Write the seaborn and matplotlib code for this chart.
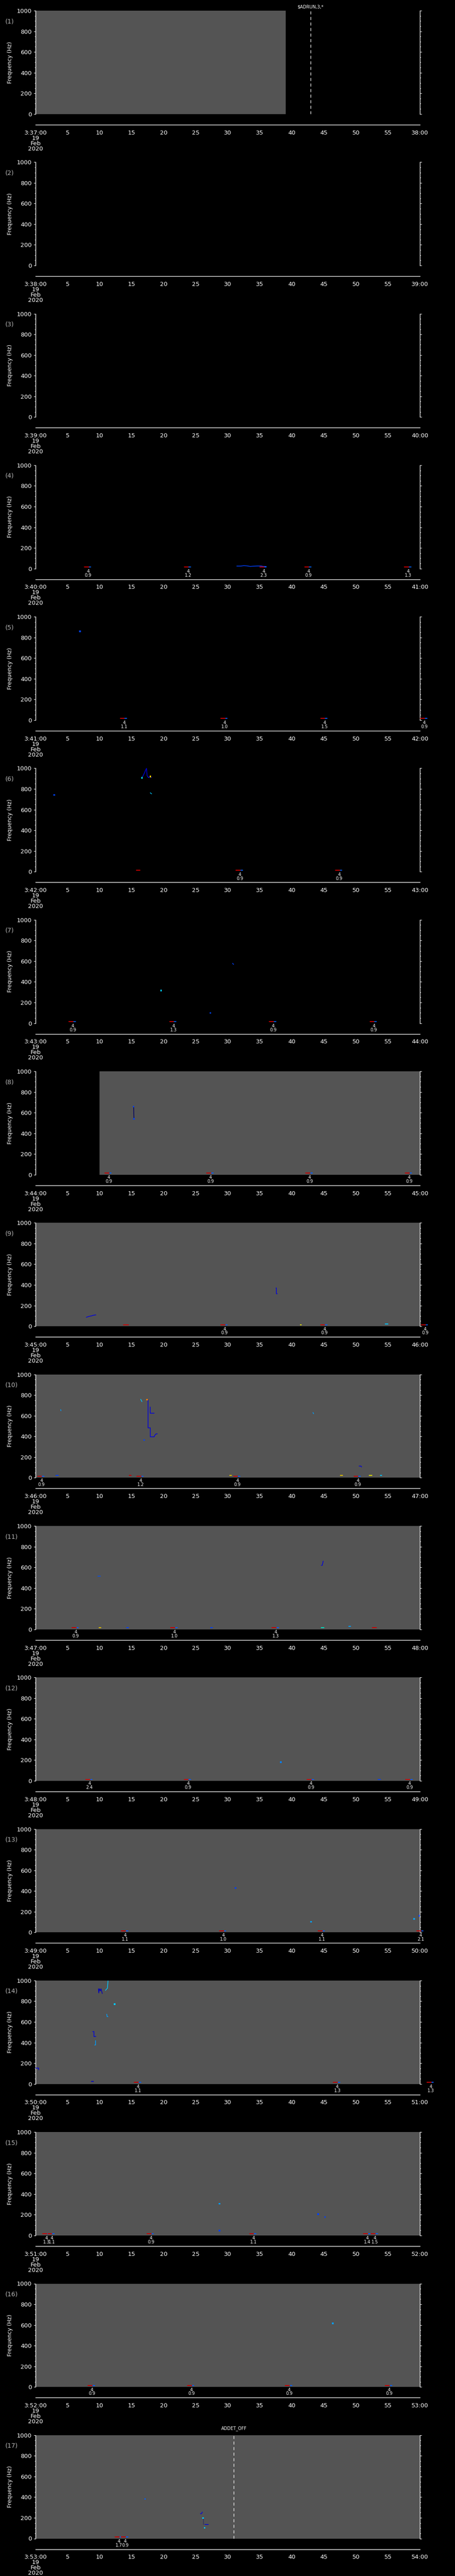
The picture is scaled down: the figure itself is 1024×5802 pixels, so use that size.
import matplotlib
matplotlib.use("Agg")
import matplotlib.pyplot as plt
import matplotlib.transforms as mtransforms
from matplotlib.ticker import MultipleLocator
import seaborn as sns

# ---------------- data ----------------
HOUR = 3
MINUTES = list(range(37, 54))              # panels start at 3:37 ... 3:53
DATE_LINES = ["19", "Feb", "2020"]
FREQ_TICKS = [0, 200, 400, 600, 800, 1000]
TIME_TICKS = list(range(0, 61, 5))

# data coverage (grey area) in seconds within each minute, None = no data
DATA_START = [0.0, None, None, None, None, None, None, 10.0, 0.0, 0.0, 0.0, 0.0, 0.0, 0.0, 0.0, 0.0, 0.0]
DATA_END = [39.05, None, None, None, None, None, None, 60.0, 60.0, 60.0, 60.0, 60.0, 60.0, 60.0, 60.0, 60.0, 60.0]

# labelled detections (code "4" above a value)
EVENT_CODE = "4"
EVENT_TIMES = [
    [], [], [],
    [8.2, 23.8, 35.6, 42.6, 58.2],
    [13.8, 29.5, 45.1, 60.7],
    [31.9, 47.4],
    [5.8, 21.5, 37.1, 52.8],
    [11.4, 27.3, 42.8, 58.3],
    [29.5, 45.1, 60.8],
    [0.9, 16.4, 31.5, 50.3],
    [6.25, 21.7, 37.5],
    [8.4, 23.8, 43.0, 58.4],
    [14.0, 29.3, 44.7, 60.1],
    [16.0, 47.1, 61.7],
    [1.7, 2.5, 18.0, 34.0, 51.8, 53.0],
    [8.8, 24.3, 39.6, 55.2],
    [13.0, 14.0],
]
EVENT_VALUES = [
    [], [], [],
    [0.9, 1.2, 2.3, 0.9, 1.3],
    [1.1, 1.0, 1.5, 0.9],
    [0.9, 0.9],
    [0.9, 1.3, 0.9, 0.9],
    [0.9, 0.9, 0.9, 0.9],
    [0.9, 0.9, 0.9],
    [0.9, 1.2, 0.9, 0.9],
    [0.9, 1.0, 1.3],
    [2.4, 0.9, 0.9, 0.9],
    [1.1, 1.0, 1.1, 2.1],
    [1.1, 1.3, 1.3],
    [1.3, 1.1, 0.9, 1.1, 1.4, 1.5],
    [0.9, 0.9, 0.9, 0.9],
    [1.7, 0.9],
]

# unlabelled low-frequency blips
LOW_PANEL = [6, 9, 9, 9, 10, 10, 10, 10, 10, 10, 11, 11, 11, 11, 11, 11, 12, 14]
LOW_T0 = [15.7, 13.7, 41.3, 54.6, 3.2, 14.6, 30.3, 47.6, 52.1, 53.8, 9.9, 14.2, 27.3, 44.6, 48.9, 52.6, 53.5, 8.7]
LOW_T1 = [16.3, 14.5, 41.5, 55.0, 3.5, 14.9, 30.6, 47.9, 52.5, 54.0, 10.2, 14.5, 27.6, 45.0, 49.2, 53.2, 53.8, 9.0]
LOW_F = [15, 15, 15, 23, 25, 25, 25, 25, 25, 25, 15, 15, 15, 15, 30, 15, 15, 25]
LOW_COLOR = ["#c80000", "#c80000", "#e0e000", "#00c8ff", "#0040ff", "#c80000", "#e0c000",
             "#e0c000", "#e0e000", "#00c8ff", "#e0c000", "#0040ff", "#0040ff", "#00e0c0",
             "#00a0ff", "#c80000", "#0040ff", "#0000c0"]

# traces (connected spectral features)
TRACE_PANEL = [4, 6, 6, 7, 8, 9, 9, 10, 10, 10, 10, 10, 10, 11, 11,
               14, 14, 14, 14, 14, 14, 17, 17, 17]
TRACE_T = [
    [31.4, 32.0, 32.5, 33.0, 33.5, 34.0, 34.6, 35.2, 35.5, 36.0],
    [16.6, 16.9, 17.3, 17.4, 17.6, 17.9, 18.1],
    [17.9, 18.1],
    [30.75, 30.9],
    [15.3, 15.35],
    [7.9, 8.3, 8.7, 9.0, 9.4],
    [37.5, 37.6, 37.6, 37.7],
    [3.9, 3.95],
    [16.4, 16.6],
    [17.4, 17.55, 17.55, 17.9, 17.9, 18.5, 18.6, 18.8, 19.0],
    [17.9, 17.9, 18.5],
    [43.3, 43.4],
    [50.5, 50.8, 50.9],
    [9.7, 10.1],
    [44.6, 44.75, 44.9],
    [0.0, 0.45, 0.45],
    [8.9, 9.1, 9.1, 9.4],
    [9.2, 9.35, 9.35],
    [9.8, 9.85, 9.95, 10.1, 10.2, 10.4],
    [10.9, 11.1, 11.2, 11.3],
    [11.1, 11.15, 11.3],
    [25.7, 25.9, 26.0, 26.05],
    [26.2, 26.2],
    [26.4, 27.0],
]
TRACE_F = [
    [24, 24, 28, 26, 21, 23, 25, 25, 21, 21],
    [907, 944, 1000, 929, 910, 920, 910],
    [763, 753],
    [580, 568],
    [659, 540],
    [86, 95, 100, 106, 110],
    [372, 372, 315, 315],
    [660, 648],
    [760, 736],
    [755, 755, 483, 483, 396, 396, 411, 425, 425],
    [685, 625, 625],
    [632, 619],
    [113, 113, 104],
    [515, 515],
    [619, 619, 660],
    [153, 153, 134],
    [506, 506, 458, 460],
    [377, 377, 421],
    [921, 880, 921, 900, 921, 874],
    [905, 920, 925, 1000],
    [675, 651, 651],
    [240, 240, 255, 255],
    [197, 136],
    [136, 136],
]
TRACE_COLOR = ["#0040ff", "#0000e0", "#00c8ff", "#0040ff", "#000060", "#0000e0", "#0000e0",
               "#00a0ff", "#00c8ff", "#0000e0", "#0000e0", "#00a0ff", "#0000e0", "#0050ff",
               "#0000e0", "#0000e0", "#0000e0", "#00a0ff", "#0000c0", "#00c8ff", "#00a0ff",
               "#0000e0", "#303060", "#0000e0"]

# isolated spectral pixels
DOT_PANEL = [5, 6, 6, 6, 7, 7, 8, 8, 10, 10, 12, 13, 13, 13, 13, 14, 15, 15, 15, 15, 16, 17, 17, 17]
DOT_T = [6.93, 2.9, 17.9, 16.6, 19.6, 27.3, 15.3, 15.35, 17.4, 16.95, 38.25, 31.2, 43.0, 59.1, 59.9,
         12.3, 28.7, 28.7, 44.1, 45.2, 46.4, 17.1, 26.15, 26.4]
DOT_F = [861, 742, 920, 907, 316, 100, 659, 540, 755, 364, 180, 430, 102, 130, 160,
         770, 307, 47, 206, 179, 616, 383, 197, 103]
DOT_COLOR = ["#0040ff", "#0040ff", "#ffd000", "#00e0ff", "#00c8ff", "#0040ff", "#0040ff", "#0040ff",
             "#ff8000", "#0040ff", "#0080ff", "#0040ff", "#00a0ff", "#00a0ff", "#0040ff",
             "#00c8ff", "#00a0ff", "#0040ff", "#0040ff", "#0040ff", "#00a0ff", "#0060ff",
             "#00c8ff", "#00c8ff"]

# mode markers (dashed vertical lines)
MARKER_PANEL = [1, 17]
MARKER_TIME = [42.9, 30.95]
MARKER_TEXT = ["$ADRUN,3,*", "ADDET_OFF"]

# ---------------- layout / style ----------------
W, H = 1024, 5802
LEFT, PW = 80.3, 864.7
TOP0, STEP, PH = 24.0, 341.3, 232.7
TAX_OFF = 256.7
GREY = "#545454"
FONT = ["Liberation Sans Narrow", "DejaVu Sans"]

sns.set_style("dark", rc={"axes.facecolor": "black", "figure.facecolor": "black",
                          "axes.grid": False, "text.color": "white",
                          "xtick.color": "white", "ytick.color": "white"})
plt.rcParams["font.family"] = FONT

fig = plt.figure(figsize=(W / 100, H / 100), dpi=100)
fig.patch.set_facecolor("black")


def fx(px):
    return px / W


def fy(py):
    return 1 - py / H


for k, minute in enumerate(MINUTES):
    pnum = k + 1
    top = TOP0 + k * STEP
    ax = fig.add_axes([fx(LEFT), fy(top + PH), PW / W, PH / H])
    ax.set_facecolor("black")
    ax.set_xlim(0, 60)
    ax.set_ylim(0, 1000)
    for s in ("top", "bottom"):
        ax.spines[s].set_visible(False)
    for s in ("left", "right"):
        ax.spines[s].set_visible(True)
        ax.spines[s].set_color("white")
        ax.spines[s].set_linewidth(1.0)
    ax.set_xticks([])
    ax.set_yticks(FREQ_TICKS)
    ax.yaxis.set_minor_locator(MultipleLocator(50))
    ax.tick_params(axis="y", which="both", direction="out", left=True, right=True,
                   labelleft=True, labelright=False, colors="white", width=0.8)
    ax.tick_params(axis="y", which="major", length=3.0, pad=3.5, labelsize=9.5)
    ax.tick_params(axis="y", which="minor", length=1.6)
    for lab in ax.get_yticklabels():
        lab.set_family(FONT)

    # data coverage
    if DATA_START[k] is not None:
        ax.axvspan(DATA_START[k], DATA_END[k], ymin=0, ymax=1, color=GREY, lw=0, zorder=0)

    # traces
    for p, ts, fs, c in zip(TRACE_PANEL, TRACE_T, TRACE_F, TRACE_COLOR):
        if p == pnum:
            sns.lineplot(x=ts, y=fs, ax=ax, color=c, lw=1.1, sort=False, estimator=None,
                         zorder=3)
    # isolated pixels
    dt = [t for p, t in zip(DOT_PANEL, DOT_T) if p == pnum]
    if dt:
        df_ = [f for p, f in zip(DOT_PANEL, DOT_F) if p == pnum]
        dc = [c for p, c in zip(DOT_PANEL, DOT_COLOR) if p == pnum]
        sns.scatterplot(x=dt, y=df_, ax=ax, color=dc, marker="s", s=6, linewidth=0, zorder=4)
    # unlabelled low blips
    for p, t0, t1, f, c in zip(LOW_PANEL, LOW_T0, LOW_T1, LOW_F, LOW_COLOR):
        if p == pnum:
            sns.lineplot(x=[t0, t1], y=[f, f], ax=ax, color=c, lw=1.5, sort=False,
                         estimator=None, zorder=3)

    # labelled events
    btrans = mtransforms.blended_transform_factory(ax.transData, ax.transAxes)
    for t, v in zip(EVENT_TIMES[k], EVENT_VALUES[k]):
        sns.lineplot(x=[t - 0.6, t + 0.15], y=[15, 15], ax=ax, color="#c80000", lw=1.5,
                     sort=False, estimator=None, clip_on=False, zorder=3)
        sns.lineplot(x=[t + 0.15, t + 0.4], y=[15, 15], ax=ax, color="#0060ff", lw=1.5,
                     sort=False, estimator=None, clip_on=False, zorder=3)
        ax.text(t, -1.5 / PH, f"{EVENT_CODE}\n{v:.1f}", transform=btrans, ha="center",
                va="top", fontsize=7, color="white", linespacing=0.85, family=FONT,
                clip_on=False)

    # mode markers
    for p, t, txt in zip(MARKER_PANEL, MARKER_TIME, MARKER_TEXT):
        if p == pnum:
            ax.axvline(t, color="white", lw=0.9, ls=(0, (5.5, 4.5)), zorder=5)
            off = 9 if p == 1 else 15
            ax.text(t, 1 + off / PH, txt, transform=btrans, ha="center", va="center",
                    fontsize=7, color="white", family=FONT, parse_math=False, clip_on=False)

    # labels
    fig.text(fx(12), fy(top + 24), f"({pnum})", ha="left", va="center", fontsize=10,
             color="#b4b4b4", family=FONT)
    fig.text(fx(23), fy(top + PH / 2), "Frequency (Hz)", rotation=90, ha="center",
             va="center", fontsize=9, color="white", family=["DejaVu Sans"])

    # time axis
    tax = fig.add_axes([fx(LEFT), fy(top + TAX_OFF), PW / W, 0.5 / H])
    tax.set_facecolor("none")
    tax.patch.set_alpha(0)
    for s in ("top", "left", "right"):
        tax.spines[s].set_visible(False)
    tax.spines["bottom"].set_color("white")
    tax.spines["bottom"].set_linewidth(1.0)
    tax.set_xlim(0, 60)
    tax.set_yticks([])
    tax.set_xticks(TIME_TICKS)
    tax.xaxis.set_minor_locator(MultipleLocator(1))
    labels = []
    for t in TIME_TICKS:
        if t == 0:
            labels.append(f"{HOUR}:{minute:02d}:00\n" + "\n".join(DATE_LINES))
        elif t == 60:
            labels.append(f"{minute + 1:02d}:00")
        else:
            labels.append(str(t))
    tax.set_xticklabels(labels)
    tax.tick_params(axis="x", which="both", direction="out", colors="white", width=0.8)
    tax.tick_params(axis="x", which="major", length=3.5, pad=5, labelsize=9.5)
    tax.tick_params(axis="x", which="minor", length=2.0)
    for lab in tax.get_xticklabels():
        lab.set_family(FONT)
        lab.set_linespacing(0.9)
        lab.set_verticalalignment("top")

fig.savefig("out.png", dpi=100, facecolor="black")
